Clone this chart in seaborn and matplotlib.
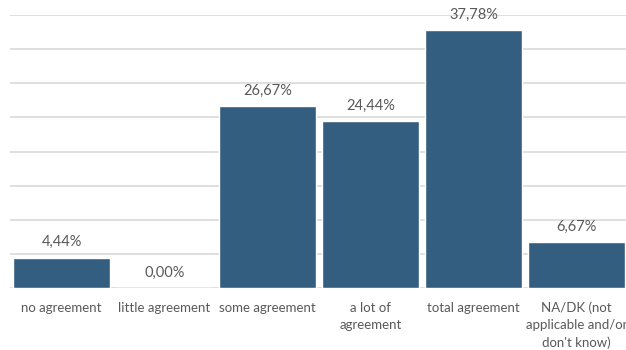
import matplotlib
matplotlib.use("Agg")
import matplotlib.pyplot as plt
import seaborn as sns
import pandas as pd

categories = ["no agreement", "little agreement", "some agreement",
              "a lot of\nagreement", "total agreement",
              "NA/DK (not\napplicable and/or\ndon't know)"]
values = [4.44, 0.00, 26.67, 24.44, 37.78, 6.67]
y_ticks = [0, 5, 10, 15, 20, 25, 30, 35, 40]

bar_color = "#345E80"
grid_color = "#D9D9D9"
text_color = "#595959"

sns.set_theme(style="white")
plt.rcParams["font.family"] = ["Lato", "DejaVu Sans"]

df = pd.DataFrame({"category": categories, "value": values})

fig = plt.figure(figsize=(6.26, 3.5), dpi=100)
ax = fig.add_axes([10 / 626, 62 / 350, 618 / 626, 273 / 350])

sns.barplot(data=df, x="category", y="value", color=bar_color,
            width=0.94, saturation=1, ax=ax, zorder=2)

ax.set_ylim(0, 40)
ax.set_xlim(-0.5, len(categories) - 0.5)
ax.set_yticks(y_ticks)
ax.yaxis.grid(True, color=grid_color, linewidth=1.2, zorder=0)
ax.set_axisbelow(True)
ax.tick_params(axis="y", left=False, labelleft=False)
ax.tick_params(axis="x", bottom=False, labelsize=9.5, labelcolor=text_color, pad=4)
for lbl in ax.get_xticklabels():
    lbl.set_linespacing(1.5)
    lbl.set_verticalalignment("top")
ax.set_xlabel("")
ax.set_ylabel("")
for side in ["top", "right", "left", "bottom"]:
    ax.spines[side].set_visible(False)

labels = [f"{v:.2f}%".replace(".", ",") for v in values]
ax.bar_label(ax.containers[0], labels=labels, padding=6, fontsize=10.5,
             color=text_color)

fig.savefig("out.png", dpi=100)
